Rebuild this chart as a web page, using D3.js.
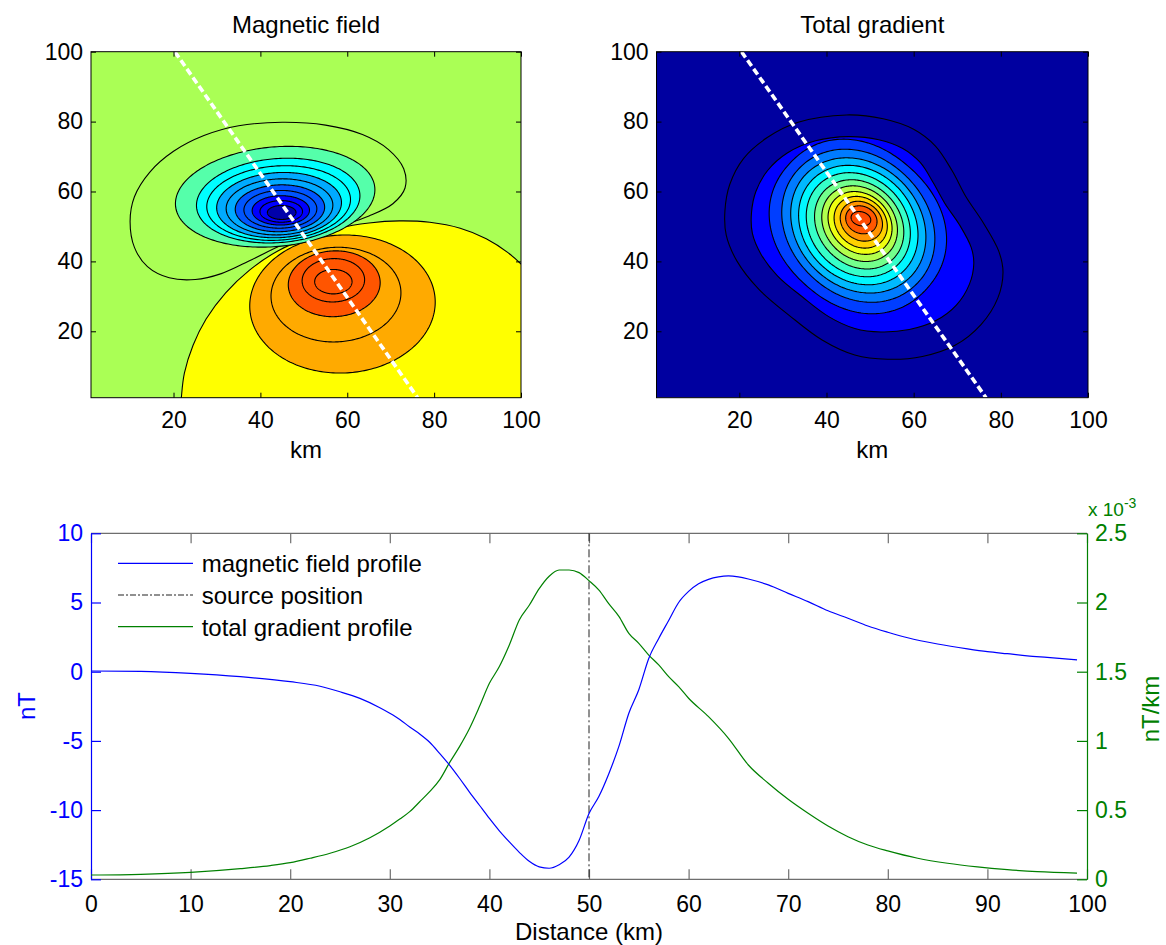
<!DOCTYPE html>
<html><head><meta charset="utf-8">
<script src="https://cdn.jsdelivr.net/npm/d3@7/dist/d3.min.js"></script>
<style>
body{margin:0;background:#fff;}
svg text{font-family:"Liberation Sans",Arial,Helvetica,sans-serif;}
</style></head><body>
<svg id="chart" width="1166" height="945"></svg>
<script>
// ================= DATA =================
// map axes (km)
const mapExtent = [1, 100];
const mapTicks = [20, 40, 60, 80, 100];
// profile trace drawn across the maps (km)
const magProfileX = [20.3, 76.2];
const tgProfileX = [20.5, 76.6];
const profileY = [100, 1];

// Magnetic field contours (nT). Positive lobe: zero contour + ellipses [cx, cy, rx, ry, rot]
const magZeroPts = [[21.5,-5],[21.8,1],[22.5,8],[24.5,16],[27.5,23.5],[32,31],[37.5,37.5],[44,43],[51,46.8],[58,49.5],[65,51],[72,51.6],[79,51.2],[86,49.5],[92,46.5],[97,42.5],[101,38],[106,30],[108,10],[105,-5]];
const magPosLevels = [1.25, 2.5, 3.75, 5, 6.25];
const magPosEll = [[58.9,27.8,21.4,19.7,10],[57.4,30.5,15.0,13.5,10],[57.0,33.6,10.6,9.4,8],[56.8,34.6,7.2,6.2,5],[56.8,34.2,4.3,3.5,0]];
// Negative lobe: outer contour points + ellipses
const magNegLevels = [-1.25,-2.5,-3.75,-5,-6.25,-7.5,-8.75,-10,-11.25,-12.5,-13.75];
const magNegOuterPts = [[10.0,51.5],[11.0,58.5],[14.5,65.5],[20,71.5],[27,76],[35,78.8],[45,79.8],[55,79],[63.5,76.3],[69.5,72],[73,66.5],[73.3,61],[70.5,56.5],[65,53],[58,50],[51.5,47.4],[45,44.7],[38,40.5],[31,36.5],[25,34.8],[19,35.3],[14,38.5],[11,44]];
const magNegEll = [[43.4,58.5,23.1,14.2,8],[44.1,57.4,18.9,12.0,7],[44.2,56.7,16.6,10.6,6],[44.3,56.1,14.4,9.3,5],[44.4,55.6,12.3,8.0,4],[44.5,55.2,10.3,6.7,3],[44.6,54.9,8.4,5.4,2],[44.7,54.6,6.6,4.2,1],[44.8,54.3,4.9,3.1,0],[44.9,54.0,3.3,2.0,0]];

// Total gradient contours (x1e-3 nT/km)
const tgLevels = [0.15,0.30,0.45,0.60,0.75,0.90,1.05,1.20,1.35,1.50,1.65,1.80,1.95,2.10];
// two outer contours traced as points
const tgOuterPts = [
  [[44.6,81.9],[53,80.8],[60,77.8],[65,73],[68.8,66],[72,58.5],[76,51],[79.5,43],[80.5,37],[79.3,29.5],[75.5,22],[69.5,16],[62,12.8],[54,12],[46.5,13.2],[39,17.5],[31.5,24.5],[24.5,32],[19.5,40],[17,47.5],[16.7,54.5],[17.8,62],[21,69.5],[26.5,75.5],[33.5,79.8]],
  [[45.1,75.7],[52,74.8],[57.5,72.3],[61.5,68.3],[64.5,62.5],[67.2,56.5],[70.5,50.5],[73.2,44],[73.8,39.5],[72.8,33.5],[69.8,27.5],[65,23],[59,20.5],[52.5,19.8],[46.5,20.8],[40.5,24.2],[34.5,29.8],[28.8,35.8],[25,42],[23,48],[22.8,54],[23.8,60],[26.5,66],[31,71],[37.5,74.5]]];
// inner contours [cx, cy, a, b, rot, n], a/b in km of the x scale, rot on screen
const tgShapes = [
  [47.2,50.0,21.3,18.0,-42,2.15],
  [47.3,50.2,18.9,15.8,-45,2.05],[47.3,50.3,16.8,14.1,-45,2],[47.3,50.4,14.8,12.5,-45,2],
  [47.3,50.5,12.9,10.9,-45,2],[47.5,50.6,11.1,9.3,-45,2],[47.6,50.8,9.4,7.9,-45,2],
  [47.7,51.0,7.9,6.6,-42,2],[47.85,51.2,6.5,5.5,-40,2],[48.0,51.5,5.1,4.3,-35,2],
  [48.0,51.9,3.7,3.1,-25,2],[47.9,52.2,2.3,1.6,-15,2]];

// Profiles
const distance = [0,5,10,15,20,23,25,27,29,30,31,32,33,34,35,36,37,38,39,40,41,42,43,44,45,46,47,48,49,50,51,52,53,54,55,56,57,58,59,60,61,62,63,64,65,66,68,70,72,74,76,78,80,82,85,88,90,92,94,96,99];
const magProfile = [0.05,0.02,-0.12,-0.36,-0.72,-1.05,-1.45,-1.93,-2.6,-3.0,-3.45,-4.0,-4.5,-5.1,-5.9,-6.75,-7.7,-8.7,-9.65,-10.6,-11.5,-12.3,-13.05,-13.7,-14.1,-14.2,-13.95,-13.4,-12.2,-10.25,-9.0,-7.35,-5.4,-3.0,-1.3,0.96,2.4,3.7,5.0,5.8,6.35,6.67,6.85,6.92,6.85,6.7,6.27,5.66,5.06,4.4,3.86,3.3,2.85,2.45,2.0,1.65,1.45,1.3,1.15,1.03,0.85];
const tgDistance = [0,5,10,15,18,20,22,24,26,28,30,31,32,33,34,35,36,37,38,39,40,41,42,43,44,45,46,47,48,49,50,51,52,53,54,55,56,57,58,59,60,62,64,66,68,70,72,74,76,78,80,83,86,89,92,95,99];
const tgProfile = [0.031,0.036,0.05,0.077,0.099,0.12,0.152,0.188,0.235,0.30,0.385,0.435,0.489,0.56,0.633,0.718,0.843,0.959,1.09,1.248,1.416,1.537,1.693,1.874,1.98,2.10,2.19,2.235,2.235,2.216,2.158,2.09,1.99,1.90,1.777,1.705,1.62,1.549,1.464,1.392,1.308,1.175,1.019,0.826,0.694,0.578,0.477,0.385,0.308,0.248,0.205,0.152,0.116,0.09,0.07,0.055,0.045];
const sourcePosition = 50;
const distTicks = [0,10,20,30,40,50,60,70,80,90,100];
const nTTicks = [-15,-10,-5,0,5,10];
const gradTicks = [0,0.5,1,1.5,2,2.5];
const legendLabels = ["magnetic field profile","source position","total gradient profile"];

// ================= STYLE =================
const magColor = d3.scaleThreshold()
  .domain([-13.75,-11.25,-8.75,-6.25,-3.75,-2.5,0,1.25,3.75])
  .range(['#0000AA','#0000FF','#0055FF','#00AAFF','#00FFFF','#55FFAA','#AAFF55','#FFFF00','#FFAA00','#FF5500']);
const tgColor = d3.scaleThreshold()
  .domain([0.3,0.45,0.6,0.75,0.9,1.05,1.2,1.35,1.5,1.65,1.8,1.95,2.1])
  .range(['#0000A0','#0000FF','#003EFF','#007BFF','#00B9FF','#00F7FF','#36FFC9','#73FF8C','#B2FF4D','#EFFF10','#FFD100','#FF9400','#FF5700','#FF4A00']);
const BLUE = '#0000FF', GREEN = '#008000', GRAY = '#6e6e6e';

const svg = d3.select('#chart');

// iso = true: semi-axes in km of the x scale and rotation on screen
function ellPath(s, x, y, iso) {
  const [cx, cy, a, b, rot, n = 2] = s;
  const kx = Math.abs(x(2) - x(1)), ky = Math.abs(y(2) - y(1));
  const f = iso ? kx / ky : 1;
  const r = rot * Math.PI / 180, pts = [];
  for (let i = 0; i < 240; i++) {
    const t = i / 240 * 2 * Math.PI, c = Math.cos(t), sn = Math.sin(t);
    const ex = a * Math.sign(c) * Math.pow(Math.abs(c), 2 / n);
    const ey = b * Math.sign(sn) * Math.pow(Math.abs(sn), 2 / n);
    pts.push([x(cx + ex * Math.cos(r) - ey * Math.sin(r)), y(cy + (ex * Math.sin(r) + ey * Math.cos(r)) * f)]);
  }
  return d3.line().curve(d3.curveLinearClosed)(pts);
}
function ptsPath(p, x, y) {
  return d3.line().x(d => x(d[0])).y(d => y(d[1])).curve(d3.curveCatmullRomClosed.alpha(0.5))(p);
}

function drawMap(cfg) {
  const x = d3.scaleLinear().domain(mapExtent).range([cfg.left, cfg.right]);
  const y = d3.scaleLinear().domain(mapExtent).range([cfg.bottom, cfg.top]);
  svg.append('clipPath').attr('id', cfg.id).append('rect')
    .attr('x', cfg.left).attr('y', cfg.top).attr('width', cfg.right - cfg.left).attr('height', cfg.bottom - cfg.top);
  const plot = svg.append('g').attr('clip-path', `url(#${cfg.id})`);
  plot.append('rect').attr('x', cfg.left).attr('y', cfg.top)
    .attr('width', cfg.right - cfg.left).attr('height', cfg.bottom - cfg.top).attr('fill', cfg.bg);
  cfg.draw(plot, x, y);
  plot.append('line')
    .attr('x1', x(cfg.profX[0])).attr('y1', y(profileY[0]))
    .attr('x2', x(cfg.profX[1])).attr('y2', y(profileY[1]))
    .attr('stroke', '#fff').attr('stroke-width', 3.6).attr('stroke-dasharray', '7,3.5');
  const ax = svg.append('g');
  const bottomAx = d3.axisBottom(x).tickValues(mapTicks).tickSizeInner(-5).tickSizeOuter(0).tickPadding(14).tickFormat(d => String(d));
  const leftAx = d3.axisLeft(y).tickValues(mapTicks).tickSizeInner(-5).tickSizeOuter(0).tickPadding(8).tickFormat(d => String(d));
  const topAx = d3.axisTop(x).tickValues(mapTicks).tickSizeInner(-5).tickSizeOuter(0).tickFormat('');
  const rightAx = d3.axisRight(y).tickValues(mapTicks).tickSizeInner(-5).tickSizeOuter(0).tickFormat('');
  [[bottomAx, `translate(0,${cfg.bottom})`], [leftAx, `translate(${cfg.left},0)`], [topAx, `translate(0,${cfg.top})`], [rightAx, `translate(${cfg.right},0)`]]
    .forEach(([a, tr]) => {
      const gg = ax.append('g').attr('transform', tr).call(a);
      gg.select('.domain').remove();
      gg.attr('font-family', null);
      gg.selectAll('.tick line').attr('stroke', '#000');
      gg.selectAll('text').attr('font-size', 23).attr('fill', '#000');
    });
  svg.append('rect').attr('x', cfg.left).attr('y', cfg.top)
    .attr('width', cfg.right - cfg.left).attr('height', cfg.bottom - cfg.top)
    .attr('fill', 'none').attr('stroke', '#000').attr('stroke-width', 1);
  svg.append('text').attr('x', (cfg.left + cfg.right) / 2).attr('y', 33).attr('text-anchor', 'middle')
    .attr('font-size', 24).text(cfg.title);
  svg.append('text').attr('x', (cfg.left + cfg.right) / 2).attr('y', 458).attr('text-anchor', 'middle')
    .attr('font-size', 24).text('km');
}

drawMap({
  id: 'clipMag', left: 91, right: 521, top: 51.7, bottom: 397.7, title: 'Magnetic field',
  bg: magColor(-0.1), profX: magProfileX,
  draw(plot, x, y) {
    plot.append('path').attr('d', ptsPath(magZeroPts, x, y))
      .attr('fill', magColor(0.1)).attr('stroke', '#000').attr('stroke-width', 1.1);
    magPosEll.forEach((s, i) => plot.append('path').attr('d', ellPath(s, x, y, false))
      .attr('fill', magColor(magPosLevels[i] + 0.05)).attr('stroke', '#000').attr('stroke-width', 1.1));
    plot.append('path').attr('d', ptsPath(magNegOuterPts, x, y))
      .attr('fill', magColor(magNegLevels[0] - 0.05)).attr('stroke', '#000').attr('stroke-width', 1.1);
    magNegEll.forEach((s, i) => plot.append('path').attr('d', ellPath(s, x, y, false))
      .attr('fill', magColor(magNegLevels[i + 1] - 0.05)).attr('stroke', '#000').attr('stroke-width', 1.1));
  }
});

drawMap({
  id: 'clipTg', left: 656.5, right: 1088, top: 51.7, bottom: 397.7, title: 'Total gradient',
  bg: tgColor(0.0), profX: tgProfileX,
  draw(plot, x, y) {
    tgOuterPts.forEach((p, i) => plot.append('path').attr('d', ptsPath(p, x, y))
      .attr('fill', tgColor(tgLevels[i] + 0.01)).attr('stroke', '#000').attr('stroke-width', 1.1));
    tgShapes.forEach((s, i) => plot.append('path').attr('d', ellPath(s, x, y, true))
      .attr('fill', tgColor(tgLevels[i + 2] + 0.01)).attr('stroke', '#000').attr('stroke-width', 1.1));
  }
});

// ================= PROFILE CHART =================
const L = 91, R = 1087, T = 533.3, B = 879.3;
const xP = d3.scaleLinear().domain([0, 100]).range([L, R]);
const yL = d3.scaleLinear().domain([-15, 10]).range([B, T]);
const yR = d3.scaleLinear().domain([0, 2.5]).range([B, T]);
const pg = svg.append('g');

pg.append('line').attr('x1', L).attr('x2', R).attr('y1', T).attr('y2', T).attr('stroke', GRAY).attr('stroke-width', 1.2);
pg.append('line').attr('x1', L).attr('x2', R).attr('y1', B).attr('y2', B).attr('stroke', GRAY).attr('stroke-width', 1.2);
const xb = pg.append('g').attr('transform', `translate(0,${B})`)
  .call(d3.axisBottom(xP).tickValues(distTicks).tickSizeInner(-10).tickSizeOuter(0).tickPadding(16).tickFormat(d => String(d)));
const xt = pg.append('g').attr('transform', `translate(0,${T})`)
  .call(d3.axisTop(xP).tickValues(distTicks).tickSizeInner(-10).tickSizeOuter(0).tickFormat(''));
[xb, xt].forEach(g => { g.select('.domain').remove(); g.attr('font-family', null);
  g.selectAll('.tick line').attr('stroke', GRAY).attr('stroke-width', 1.2);
  g.selectAll('text').attr('font-size', 23).attr('fill', '#000'); });

const yl = pg.append('g').attr('transform', `translate(${L},0)`)
  .call(d3.axisLeft(yL).tickValues(nTTicks).tickSizeInner(-10).tickSizeOuter(0).tickPadding(8).tickFormat(d => String(d)));
yl.attr('font-family', null);
yl.select('.domain').attr('stroke', BLUE).attr('stroke-width', 1.2);
yl.selectAll('.tick line').attr('stroke', BLUE).attr('stroke-width', 1.2);
yl.selectAll('text').attr('font-size', 23).attr('fill', BLUE);

const yr = pg.append('g').attr('transform', `translate(${R},0)`)
  .call(d3.axisRight(yR).tickValues(gradTicks).tickSizeInner(-10).tickSizeOuter(0).tickPadding(8).tickFormat(d => String(d)));
yr.attr('font-family', null);
yr.select('.domain').attr('stroke', GREEN).attr('stroke-width', 1.2);
yr.selectAll('.tick line').attr('stroke', GREEN).attr('stroke-width', 1.2);
yr.selectAll('text').attr('font-size', 23).attr('fill', GREEN);

pg.append('line').attr('x1', xP(sourcePosition)).attr('x2', xP(sourcePosition)).attr('y1', T).attr('y2', B)
  .attr('stroke', '#222').attr('stroke-width', 1).attr('stroke-dasharray', '8,3,2,3');
pg.append('path').datum(d3.zip(tgDistance, tgProfile))
  .attr('d', d3.line().x(d => xP(d[0])).y(d => yR(d[1])).curve(d3.curveMonotoneX))
  .attr('fill', 'none').attr('stroke', GREEN).attr('stroke-width', 1.2);
pg.append('path').datum(d3.zip(distance, magProfile))
  .attr('d', d3.line().x(d => xP(d[0])).y(d => yL(d[1])).curve(d3.curveMonotoneX))
  .attr('fill', 'none').attr('stroke', BLUE).attr('stroke-width', 1.2);

pg.append('text').attr('x', (L + R) / 2).attr('y', 940).attr('text-anchor', 'middle').attr('font-size', 24).text('Distance (km)');
pg.append('text').attr('transform', `translate(35,706) rotate(-90)`).attr('text-anchor', 'middle')
  .attr('font-size', 24).attr('fill', BLUE).text('nT');
pg.append('text').attr('transform', `translate(1159,709) rotate(-90)`).attr('text-anchor', 'middle')
  .attr('font-size', 24).attr('fill', GREEN).text('nT/km');
const ex = pg.append('text').attr('x', 1088).attr('y', 516).attr('font-size', 19).attr('fill', GREEN);
ex.append('tspan').text('x 10');
ex.append('tspan').attr('dy', -8).attr('font-size', 14).text('-3');

const legStyles = [{c: BLUE, dash: null}, {c: '#222', dash: '6,2,2,2'}, {c: GREEN, dash: null}];
legendLabels.forEach((t, i) => {
  const yy = 563.3 + i * 31.7;
  pg.append('line').attr('x1', 118).attr('x2', 193).attr('y1', yy).attr('y2', yy)
    .attr('stroke', legStyles[i].c).attr('stroke-width', 1.2).attr('stroke-dasharray', legStyles[i].dash);
  pg.append('text').attr('x', 201.7).attr('y', yy + 9).attr('font-size', 24).text(t);
});
</script>
</body></html>
